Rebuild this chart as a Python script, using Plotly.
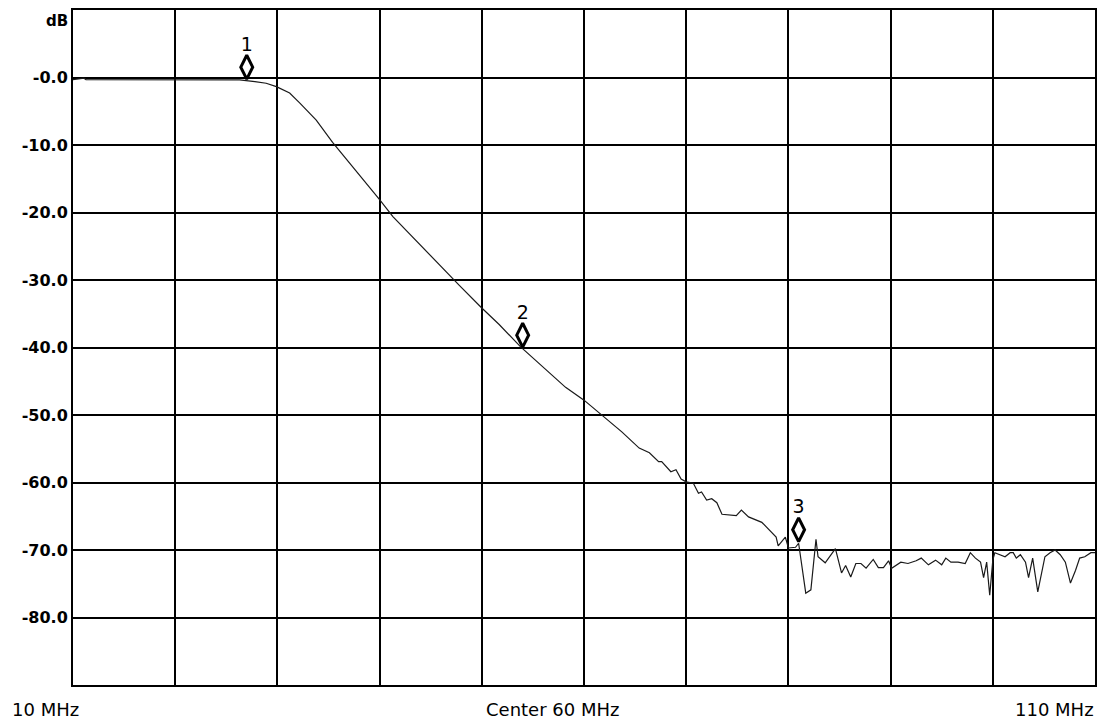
import numpy as np
import plotly.graph_objects as go

# Swept transmission response, frequency in MHz and magnitude in dB
freq_mhz = [
    10.0, 11.07, 11.27, 17.5, 22.4, 26.3, 27.8, 28.9, 29.9, 31.2,
    32.2, 33.8, 35.4, 37.1, 38.7, 40.0, 41.3, 43.2, 44.9, 46.8,
    47.8, 49.9, 51.7, 53.8, 56.3, 58.2, 60.0, 61.7, 63.7, 65.4,
    66.4, 67.3, 67.6, 68.5, 69.0, 69.5, 70.0, 70.7, 71.2, 71.5,
    72.0, 72.5, 73.0, 73.5, 74.0, 74.9, 75.4, 76.1, 77.4, 78.1,
    78.8, 79.0, 79.7, 80.0, 80.7, 81.0, 81.7, 82.2, 82.7, 82.9,
    83.6, 84.6, 85.2, 85.6, 86.1, 86.6, 87.1, 87.6, 88.3, 88.8,
    89.3, 89.8, 90.1, 91.0, 91.7, 92.5, 93.0, 93.7, 94.4, 95.0,
    95.4, 95.9, 96.6, 97.3, 97.8, 98.3, 98.8, 99.1, 99.4, 99.7,
    100.0, 100.2, 100.7, 101.2, 101.7, 102.0, 102.3, 102.7, 103.2, 103.5,
    103.9, 104.4, 105.1, 105.6, 106.1, 106.6, 107.1, 107.6, 108.1, 108.5,
    109.0, 109.6, 110.0,
]
gain_db = [
    -0.3, -0.1, -0.3, -0.3, -0.3, -0.35, -0.6, -0.85, -1.35, -2.3,
    -3.8, -6.3, -9.6, -12.7, -15.6, -18.1, -20.6, -23.6, -26.3, -29.3,
    -30.8, -34.0, -36.6, -39.9, -43.3, -45.9, -47.8, -50.0, -52.5, -54.9,
    -55.6, -56.9, -56.9, -58.4, -58.1, -59.5, -59.9, -60.1, -61.6, -61.4,
    -62.6, -62.4, -63.0, -64.7, -64.8, -64.9, -64.1, -65.1, -65.9, -67.0,
    -68.1, -69.4, -68.1, -69.7, -69.6, -69.0, -76.4, -75.9, -68.4, -71.0,
    -71.9, -69.8, -73.4, -72.3, -74.0, -72.0, -72.0, -72.7, -71.4, -72.6,
    -72.6, -71.6, -72.7, -71.8, -72.0, -71.6, -71.2, -72.2, -71.5, -72.2,
    -71.2, -71.8, -71.8, -72.0, -70.4, -71.2, -71.8, -74.1, -71.8, -76.7,
    -71.5, -70.4, -70.7, -71.0, -70.4, -70.4, -71.2, -70.7, -71.8, -74.1,
    -71.2, -76.2, -71.0, -70.4, -70.0, -70.7, -71.8, -74.9, -73.0, -71.2,
    -71.0, -70.4, -70.4,
]

# Marker frequencies and their numbers
marker_mhz = [27, 54, 81]
marker_labels = ["1", "2", "3"]

# Y tick values and their printed labels
y_ticks = [0, -10, -20, -30, -40, -50, -60, -70, -80]
y_tick_text = ["-0.0", "-10.0", "-20.0", "-30.0", "-40.0", "-50.0", "-60.0", "-70.0", "-80.0"]

# Frequency annotations below the graticule
start_label = "10 MHz"
center_label = "Center 60 MHz"
stop_label = "110 MHz"

# Marker symbols sit just above the trace value at each marker frequency
marker_db = np.interp(marker_mhz, freq_mhz, gain_db)
symbol_lift_db = 2.0

fig = go.Figure()
fig.add_trace(go.Scatter(
    x=freq_mhz, y=gain_db, mode="lines",
    line=dict(color="#1a1a1a", width=1.2),
    hoverinfo="skip", showlegend=False,
))
fig.add_trace(go.Scatter(
    x=marker_mhz, y=marker_db + symbol_lift_db, mode="markers+text",
    marker=dict(symbol="diamond-tall-open", size=17, color="black",
                line=dict(color="black", width=3)),
    text=marker_labels, textposition="top center",
    textfont=dict(family="DejaVu Sans", size=19, color="black"),
    showlegend=False, hoverinfo="skip",
))

axis_common = dict(
    showline=True, mirror=True, linecolor="black", linewidth=2,
    showgrid=True, gridcolor="black", gridwidth=2, zeroline=False,
)
fig.update_xaxes(range=[10, 110], tick0=10, dtick=10, showticklabels=False,
                 ticks="", **axis_common)
fig.update_yaxes(range=[-90, 10], tickvals=y_ticks, ticktext=y_tick_text,
                 ticks="", tickfont=dict(family="DejaVu Sans", size=16,
                                         color="black", weight="bold"),
                 **axis_common)

label_font = dict(family="DejaVu Sans", size=18, color="black")
annotations = [
    dict(text="<b>dB</b>", xref="paper", yref="paper", x=0, y=1,
         xanchor="right", yanchor="middle", xshift=-3, yshift=-11,
         showarrow=False, font=dict(family="DejaVu Sans", size=15, color="black")),
    dict(text=start_label, xref="paper", yref="paper", x=0, y=0,
         xanchor="left", yanchor="middle", xshift=-63, yshift=-24,
         showarrow=False, font=label_font),
    dict(text=center_label, xref="x", yref="paper", x=60, y=0,
         xanchor="center", yanchor="middle", xshift=-32, yshift=-24,
         showarrow=False, font=label_font),
    dict(text=stop_label, xref="paper", yref="paper", x=1, y=0,
         xanchor="right", yanchor="middle", xshift=1, yshift=-24,
         showarrow=False, font=label_font),
]

fig.update_layout(
    width=1103, height=719,
    margin=dict(l=73, r=6, t=10, b=34),
    paper_bgcolor="white", plot_bgcolor="white",
    annotations=annotations,
    font=dict(family="DejaVu Sans"),
)

fig.write_html("out.html")
